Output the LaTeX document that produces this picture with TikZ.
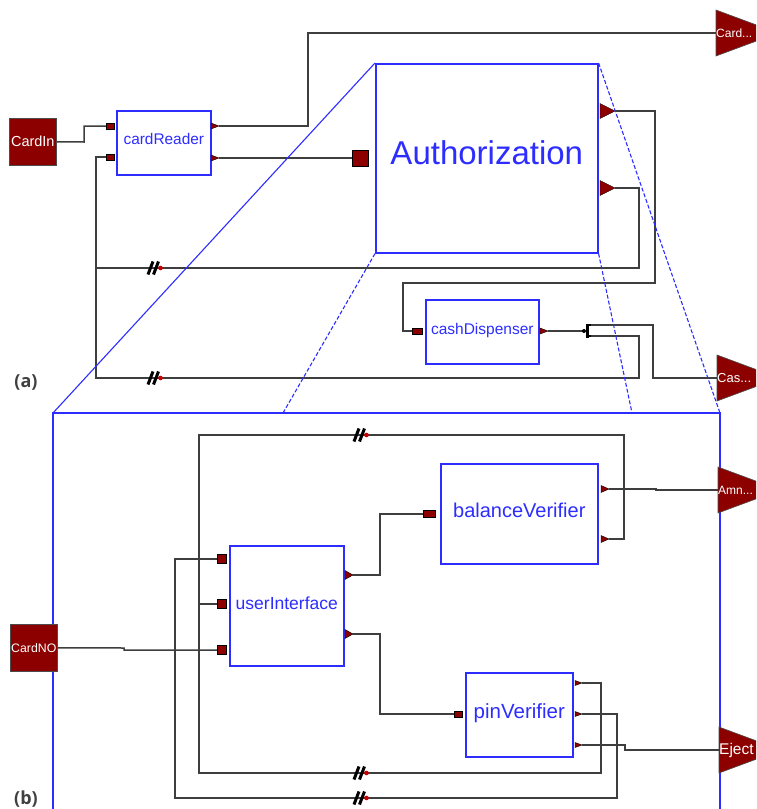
\documentclass[tikz,border=0pt]{standalone}
\usepackage{fontspec}
\setmainfont{Liberation Sans}
\newfontfamily\lblfont{Open Sans}
\definecolor{pred}{RGB}{140,0,0}
\definecolor{bblue}{RGB}{45,45,255}
\definecolor{wirec}{RGB}{62,62,62}
\newcommand{\fsz}[1]{\fontsize{#1}{#1}\selectfont}
% output triangle port: name, x, y, w, h
\newcommand{\otri}[5]{%
  \filldraw[fill=pred,draw=black,line width=0.4pt] (#2,#3) ++(0,-#5/2) -- ++(#4,#5/2) -- ++(-#4,#5/2) -- cycle;
  \coordinate (#1) at (#2+#4,#3);}
% big output terminal: name, x, y, text, font size
\newcommand{\bigtri}[5]{%
  \filldraw[fill=pred,draw=black!70,line width=0.6pt] (#2,#3-23) -- (#2+62,#3) -- (#2,#3+23) -- cycle;
  \node[anchor=west,inner sep=0pt,text=white,font=\fsz{#5}] (#1) at (#2,#3) {#4};}
% break marker
\newcommand{\brk}[2]{%
  \draw[line width=3pt,black] (#1-7,#2+6.5) -- (#1-2,#2-6.5) (#1-1.5,#2+6.5) -- (#1+3.5,#2-6.5);
  \fill[red!80!black] (#1+5.5,#2) circle (2.3);}
\begin{document}
\begin{tikzpicture}[x=1pt,y=-1pt,
  blk/.style={draw=bblue,line width=1.6pt,fill=white,text=bblue,inner sep=0pt,anchor=north west},
  src/.style={draw=black!70,line width=0.6pt,fill=pred,text=white,inner sep=0pt,anchor=north west},
  inport/.style={draw=black,line width=0.5pt,fill=pred,inner sep=0pt},
  wire/.style={draw=wirec,line width=1.5pt},
  zoomline/.style={draw=bblue,line width=1.1pt},
  zoomdash/.style={draw=bblue,line width=1.1pt,dash pattern=on 4pt off 2pt},
  lbl/.style={font=\lblfont\bfseries\fsz{18},text=black!75,inner sep=0pt}]
\useasboundingbox (0,0) rectangle (756,809);
\fill[white] (0,0) rectangle (756,809);
\clip (0,0) rectangle (756,809);

% frame of (b)
\draw[draw=bblue,line width=1.6pt] (53,413) rectangle (720,830);

% ---------------- (a) nodes ----------------
\node[src,minimum size=47,font=\fsz{14.5}] (cardin) at (9,118) {CardIn};
\node[blk,minimum width=94,minimum height=64,font=\fsz{15.4},text height=11.5pt,text depth=8.5pt] (cr) at (116,110) {cardReader};
\node[blk,minimum width=222,minimum height=189,font=\fsz{33},text height=24.7pt,text depth=13pt] (auth) at (375,63) {Authorization};
\node[blk,minimum width=113,minimum height=64,font=\fsz{15.5},text height=11.6pt,text depth=6.5pt] (cd) at (425,299) {cashDispenser};

\node[inport,minimum width=8,minimum height=6] (cri1) at (110,126) {};
\node[inport,minimum width=8,minimum height=6] (cri2) at (110,157) {};
\otri{cro1}{211}{126}{8}{6}
\otri{cro2}{211}{158}{8}{6}
\node[inport,minimum size=16] (reg) at (360,158) {};
\otri{ao1}{600}{111}{15}{15}
\otri{ao2}{600}{188}{15}{15}
\node[inport,minimum width=10,minimum height=6] (cdi) at (417,331) {};
\otri{cdo}{540}{331}{8}{6}

\bigtri{cardout}{716}{33}{Card...}{12}
\bigtri{casout}{717}{378}{Cas...}{13}

\coordinate (j268) at (96,268);
\coordinate (sp1) at (591,325);
\coordinate (sp2) at (591,336);
\coordinate (split) at (584,331);

% ---------------- (a) wires ----------------
\draw[wire] (cardin.east) -- (84,142) |- (cri1.west);
\draw[wire] (cro1) -| (308,33) -- (cardout.west);
\draw[wire] (cro2) -- (reg.west);
\draw[wire] (cri2.west) -| (96,378) -- (639,378) |- (sp2);
\draw[wire] (j268) -- (639,268) |- (ao2);
\draw[wire] (ao1) -| (655,283) -| (403,331) -- (cdi.west);
\draw[wire] (cdo) -- (split);
\draw[wire] (sp1) -| (653,378) -- (casout.west);

% junction
\draw[black,line width=3pt] (587,324) -- (587,338);
\draw[black,line width=1.6pt] (587,325) -- (sp1) (587,336) -- (sp2);
\fill[black] (split) circle (2);

\brk{155}{268}
\brk{155}{378}

% ---------------- (b) nodes ----------------
\node[src,minimum size=47,font=\fsz{12.3}] (cardno) at (10,624) {CardNO};
\node[blk,minimum width=114,minimum height=120,font=\fsz{17.5},text height=13.1pt,text depth=6.5pt] (ui) at (229,545) {userInterface};
\node[blk,minimum width=157,minimum height=100,font=\fsz{20},text height=15pt,text depth=8.6pt] (bv) at (440,463) {balanceVerifier};
\node[blk,minimum width=107,minimum height=84,font=\fsz{20.5},text height=15.4pt,text depth=8.6pt] (pv) at (465,672) {pinVerifier};

\node[inport,minimum size=9] (uii1) at (221.5,559) {};
\node[inport,minimum size=9] (uii2) at (221.5,604) {};
\node[inport,minimum size=9] (uii3) at (221.5,650) {};
\otri{uio1}{345}{575}{8}{9}
\otri{uio2}{345}{634}{8}{9}
\node[inport,minimum width=12,minimum height=7] (bvi) at (429.5,514) {};
\otri{bvo1}{601}{489}{8}{7}
\otri{bvo2}{601}{539}{8}{7}
\node[inport,minimum width=8,minimum height=6] (pvi) at (458,714) {};
\otri{pvo1}{575}{683}{7}{5}
\otri{pvo2}{575}{714}{7}{5}
\otri{pvo3}{575}{745}{7}{5}

\bigtri{amnout}{718}{490}{Amn...}{12}
\bigtri{ejectout}{719}{750}{Eject}{15.5}

% ---------------- (b) wires ----------------
\draw[wire] (cardno.east) -- (124,648) -- (124,650) -- (uii3.west);
\draw[wire] (uii1.west) -| (175,798) -| (617,714) -- (pvo2);
\draw[wire] (uii2.west) -- (199,604);
\draw[wire] (bvo2) -| (624,435) -| (199,773) -| (601,683) -- (pvo1);
\draw[wire] (uio1) -| (380,514) -- (bvi.west);
\draw[wire] (uio2) -| (380,714) -- (pvi.west);
\draw[wire] (bvo1) -- (656,489) -- (656,490) -- (amnout.west);
\draw[wire] (pvo3) -- (625,745) -- (625,750) -- (ejectout.west);

\brk{361}{435}
\brk{361}{773}
\brk{361}{798}

% zoom lines
\draw[zoomline] (auth.north west) -- (53,413);
\draw[zoomdash] (auth.south west) -- (283,413);
\draw[zoomdash] (auth.north east) -- (720,413);
\draw[zoomdash] (auth.south east) -- (632,413);

\node[lbl] (la) at (26,382) {(a)};
\node[lbl] (lb) at (26,799) {(b)};
\end{tikzpicture}
\end{document}
